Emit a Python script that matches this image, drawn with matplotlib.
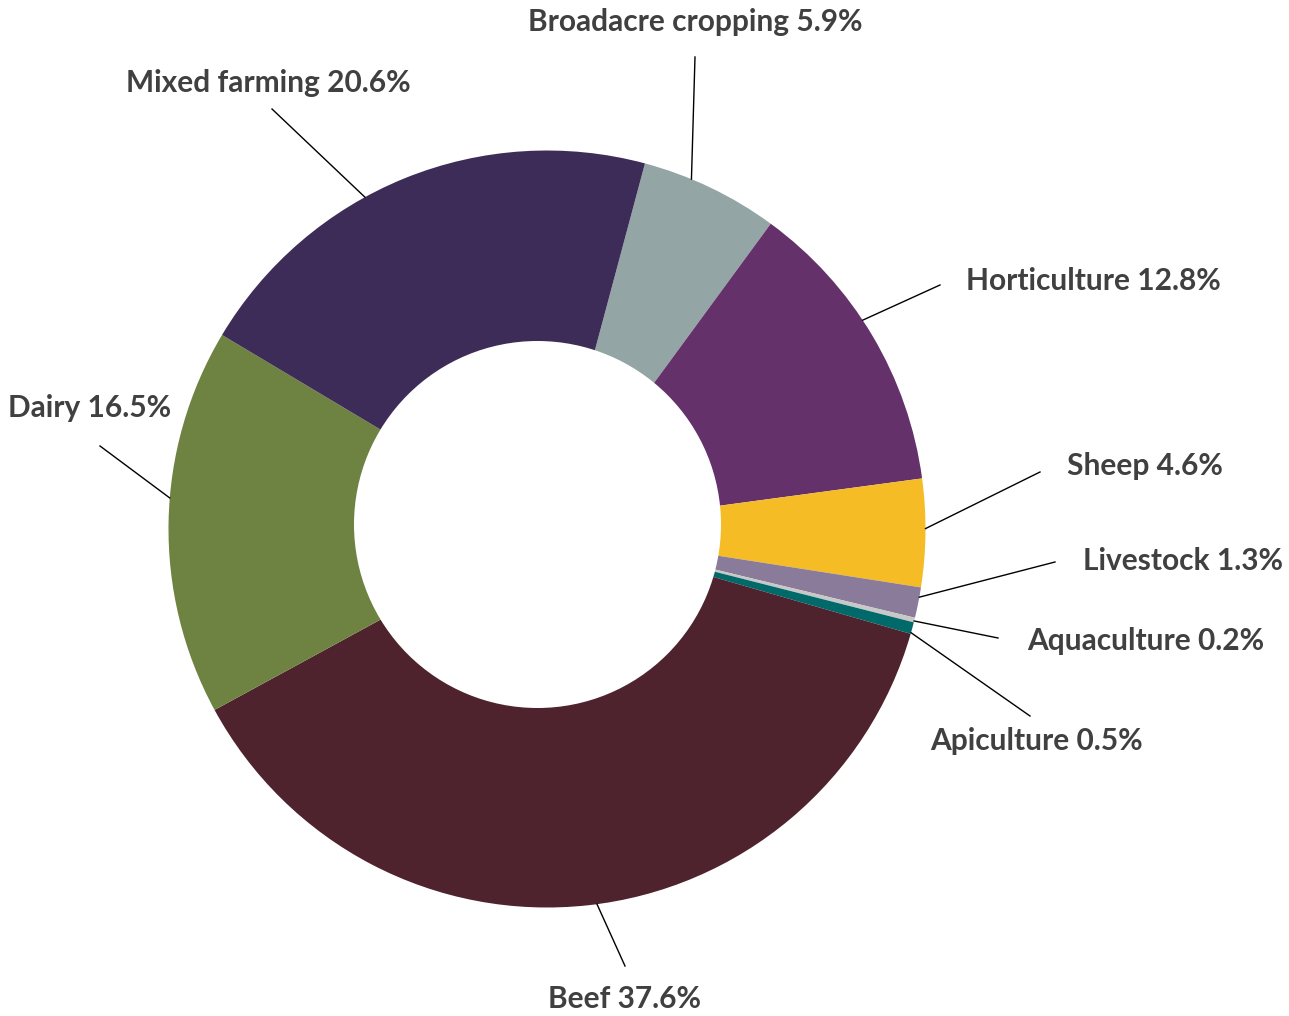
import numpy as np
import matplotlib.pyplot as plt
from matplotlib.patches import Circle

# data
labels = ["Broadacre cropping", "Horticulture", "Sheep", "Livestock", "Aquaculture",
          "Apiculture", "Beef", "Dairy", "Mixed farming"]
shares = [5.9, 12.8, 4.6, 1.3, 0.2, 0.5, 37.6, 16.5, 20.6]
colors = ["#94a5a5", "#64316a", "#f5bc26", "#8a7b9a", "#c8c8c8",
          "#006a6a", "#4e232e", "#6e8341", "#3e2c58"]

W, H = 1289, 1016
CX, CY, R = 547, 529, 378.5


def px(x, y):
    # pixel position -> data coords (radius 1 = R px)
    return (x - CX) / R, (CY - y) / R


# where the leader attaches along the wedge (0..1), line end (px), text anchor (px), ha
layout = {
    "Broadacre cropping": (0.65, (695, 57), (695, 22), "center"),
    "Horticulture": (0.56, (940, 285), (966, 281), "left"),
    "Sheep": (0.54, (1040, 472), (1067, 466), "left"),
    "Livestock": (0.68, (1055, 562), (1083, 561), "left"),
    "Aquaculture": (0.3, (998, 638), (1027, 641), "left"),
    "Apiculture": (0.1, (1030, 716), (930, 741), "left"),
    "Beef": (0.51, (625, 966), (625, 999), "center"),
    "Dairy": (0.44, (100, 446), (8, 408), "left"),
    "Mixed farming": (0.59, (272, 109), (411, 83), "right"),
}

fig = plt.figure(figsize=(W / 100, H / 100), dpi=100)
ax = fig.add_axes([0, 0, 1, 1])

wedges, _ = ax.pie(shares, colors=colors, startangle=75, counterclock=False,
                   radius=1, wedgeprops=dict(linewidth=0))
# hole sits slightly off-centre in the original
ax.add_patch(Circle(px(537.5, 524.5), 183.5 / R, facecolor="white", edgecolor="none", zorder=3))

for w, lab, val in zip(wedges, labels, shares):
    f, end, tpos, ha = layout[lab]
    a = np.deg2rad(w.theta1 + f * (w.theta2 - w.theta1))
    ex, ey = px(*end)
    ax.plot([np.cos(a), ex], [np.sin(a), ey], color="black", lw=1)
    tx, ty = px(*tpos)
    ax.text(tx, ty, f"{lab} {val}%", ha=ha, va="center", fontsize=21.5,
            fontweight="bold", family="Lato", color="#404040")

ax.set_xlim(-CX / R, (W - CX) / R)
ax.set_ylim(-(H - CY) / R, CY / R)
ax.set_aspect("equal")
ax.axis("off")

plt.savefig("out.png", dpi=100)
